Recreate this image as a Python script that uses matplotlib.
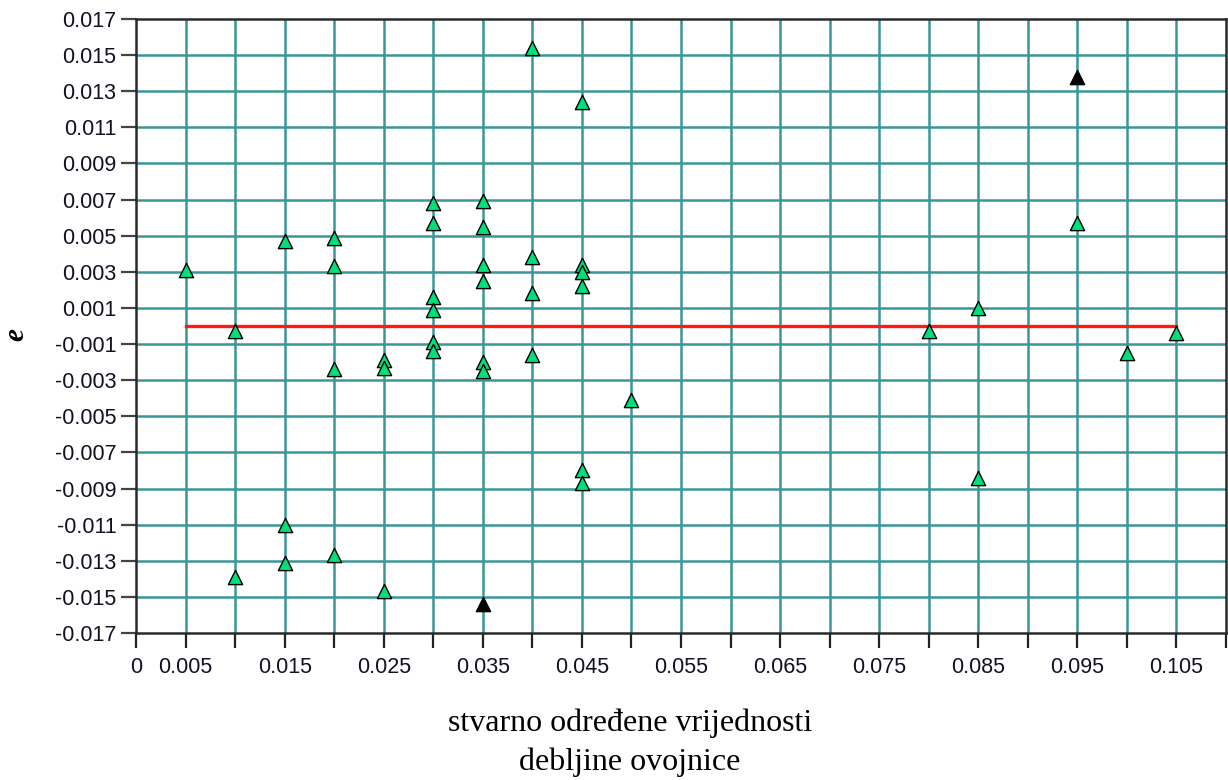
"""
Residual plot e vs stvarno odredene vrijednosti debljine ovojnice
"""
import matplotlib
matplotlib.use("Agg")
import matplotlib.pyplot as plt
from matplotlib.ticker import FixedLocator

# DATA

x_green = [0.005,
           0.010, 0.010,
           0.015, 0.015, 0.015,
           0.020, 0.020, 0.020, 0.020,
           0.025, 0.025, 0.025,
           0.030, 0.030, 0.030, 0.030, 0.030, 0.030,
           0.035, 0.035, 0.035, 0.035, 0.035, 0.035,
           0.040, 0.040, 0.040, 0.040,
           0.045, 0.045, 0.045, 0.045, 0.045, 0.045,
           0.050,
           0.080,
           0.085, 0.085,
           0.095,
           0.100,
           0.105]
e_green = [0.0031,
           -0.0003, -0.0139,
           0.0047, -0.0110, -0.0131,
           0.0049, 0.0033, -0.0024, -0.0127,
           -0.0019, -0.0023, -0.0147,
           0.0068, 0.0057, 0.0016, 0.0009, -0.0009, -0.0014,
           0.0069, 0.0055, 0.0034, 0.0025, -0.0020, -0.0025,
           0.0154, 0.0038, 0.0018, -0.0016,
           0.0124, 0.0034, 0.0030, 0.0022, -0.0080, -0.0087,
           -0.0041,
           -0.0003,
           0.0010, -0.0084,
           0.0057,
           -0.0015,
           -0.0004]

# outliers (black)
x_black = [0.095, 0.035]
e_black = [0.0138, -0.0154]

# zero line
x_zero = [0.005, 0.105]
e_zero = [0.0, 0.0]

x_ticks = [i * 0.005 for i in range(23)]
x_tick_labels = ['0', '0.005', '', '0.015', '', '0.025', '', '0.035', '', '0.045', '',
                 '0.055', '', '0.065', '', '0.075', '', '0.085', '', '0.095', '',
                 '0.105', '']
y_ticks = [-0.017 + i * 0.002 for i in range(18)]
y_tick_labels = ['%.3f' % v for v in y_ticks]

# PLOT

plt.rcParams['font.family'] = ['Liberation Sans', 'DejaVu Sans']

fig = plt.figure(figsize=(12.28, 7.8), dpi=100)
ax = fig.add_axes([136 / 1228, 1 - 633 / 780, 1090 / 1228, 614 / 780])

grid_col = '#3a9797'
for xv in x_ticks[1:-1]:
    ax.axvline(xv, color=grid_col, lw=1.8, zorder=1)
for yv in y_ticks[1:-1]:
    ax.axhline(yv, color=grid_col, lw=1.8, zorder=1)

ax.plot(x_zero, e_zero, color='#ff1a1a', lw=2.4, zorder=2)
ax.scatter(x_green, e_green, marker='^', s=105, facecolor='#00e07a',
           edgecolor='black', linewidths=1.0, zorder=3)
ax.scatter(x_black, e_black, marker='^', s=105, facecolor='black',
           edgecolor='black', linewidths=1.0, zorder=4)

ax.set_xlim(0, 0.11)
ax.set_ylim(-0.017, 0.017)
ax.xaxis.set_major_locator(FixedLocator(x_ticks))
ax.set_xticklabels(x_tick_labels)
ax.yaxis.set_major_locator(FixedLocator(y_ticks))
ax.set_yticklabels(y_tick_labels)

ax.tick_params(axis='x', length=11, width=1.6, color='#222222', pad=6,
               labelsize=15.5, labelcolor='#111122')
ax.tick_params(axis='y', length=11, width=1.6, color='#444444', pad=3,
               labelsize=15.5, labelcolor='#111122')
for s in ax.spines.values():
    s.set_color('#2a2a2a')
    s.set_linewidth(1.8)

fig.text(16 / 1228, 1 - 335 / 780, 'e', family='Liberation Serif',
         fontsize=21, fontweight='bold', style='italic', rotation=90,
         ha='center', va='center')
fig.text(630 / 1228, 1 - 743 / 780,
         'stvarno određene vrijednosti\ndebljine ovojnice',
         family='Liberation Serif', fontsize=23, ha='center', va='center',
         multialignment='center', linespacing=1.4)

fig.savefig('out.png', dpi=100)
